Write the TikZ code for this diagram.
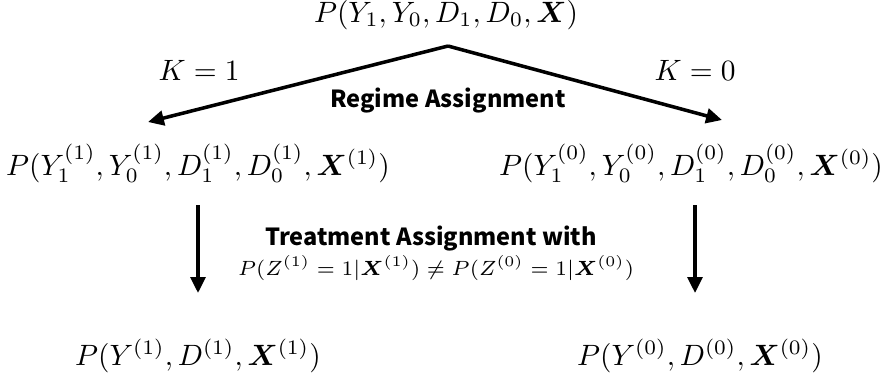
\documentclass[tikz,border=0pt]{standalone}
\usepackage{amsmath,bm}
\usepackage{fontspec}
\newfontfamily\labfont{Noto Sans CJK JP}
\usetikzlibrary{arrows.meta}
\tikzset{%
  >={Triangle[width=5pt,length=5.4pt]},
  % Specifications for style of nodes:
     dist/.style = {inner sep=0pt, anchor=base},
  assign/.style = {inner sep=0pt, anchor=base, font=\labfont\bfseries\fontsize{8}{10}\selectfont},
     arr/.style = {->, line width=1.2pt},
}

\begin{document}
\begin{tikzpicture}[x=0.34pt, y=-0.34pt]
  \useasboundingbox (0,0) rectangle (886,379);
  % Specification of nodes (position, etc.)
  \node (joint) [dist] at (446,22) {$P(Y_1, Y_0, D_1, D_0, \bm{X})$};
  \node (midL) [dist] at (198,175) {$P(Y^{(1)}_1, Y^{(1)}_0, D^{(1)}_1, D^{(1)}_0, \bm{X}^{(1)})$};
  \node (midR) [dist] at (691,175) {$P(Y^{(0)}_1, Y^{(0)}_0, D^{(0)}_1, D^{(0)}_0, \bm{X}^{(0)})$};
  \node (botL) [dist] at (198,365) {$P(Y^{(1)}, D^{(1)}, \bm{X}^{(1)})$};
  \node (botR) [dist] at (700,365) {$P(Y^{(0)}, D^{(0)}, \bm{X}^{(0)})$};
  \node (kOne) [dist] at (199,80) {$K=1$};
  \node (kZero) [dist] at (695,80) {$K=0$};
  \node (regime) [assign] at (448,107) {Regime Assignment};
  \node (treat) [assign] at (431,245) {Treatment Assignment with};
  \node (cond) [dist, font=\fontsize{7.4}{9}\selectfont] at (436,275)
    {$P(Z^{(1)}=1|\bm{X}^{(1)}) \neq P(Z^{(0)}=1|\bm{X}^{(0)})$};
  % end points of the connectors
  \coordinate (apex) at (448,46);
  \coordinate (endL) at (148,122);
  \coordinate (endR) at (722,120);
  \coordinate (startL) at (198,205);
  \coordinate (stopL) at (198,293);
  \coordinate (startR) at (695,205);
  \coordinate (stopR) at (695,293);
  % Specification of lines between nodes specified above
  \draw[arr] (apex) -- (endL);
  \draw[arr] (apex) -- (endR);
  \draw[arr] (startL) -- (stopL);
  \draw[arr] (startR) -- (stopR);
\end{tikzpicture}
\end{document}
